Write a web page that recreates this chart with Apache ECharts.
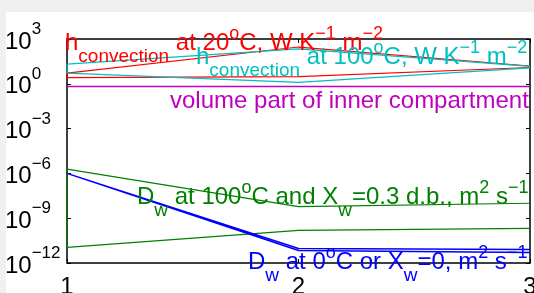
<!DOCTYPE html>
<html><head><meta charset="utf-8">
<script src="https://cdn.jsdelivr.net/npm/echarts@6/dist/echarts.min.js"></script>
<style>html,body{margin:0;padding:0;background:#f0f0f0}#c{width:534px;height:293px}</style>
</head><body><div id="c"></div>
<script>
// x positions (stage index)
const xValues = [1, 2, 3];
const xTickLabels = ['1', '2', '3'];
// y tick exponents (log10 scale)
const yTickExponents = [-12, -9, -6, -3, 0, 3];

// h_convection at 20 °C, W K^-1 m^-2 (band upper/lower)
const hConv20Upper = [5.2, 290, 15.5];
const hConv20Lower = [2.6, 3.0, 12.3];
// h_convection at 100 °C, W K^-1 m^-2 (band upper/lower)
const hConv100Upper = [21, 215, 14.5];
const hConv100Lower = [5.2, 1.23, 11.5];
// volume part of inner compartment
const volumePart = [0.65, 0.65, 0.65];
// D_w at 100 °C and X_w = 0.3 d.b., m^2 s^-1 (band)
const dw100Upper = [1.95e-6, 5.9e-9, 1.0e-8];
const dw100Lower = [1.1e-11, 1.55e-10, 2.1e-10];
// D_w at 0 °C or X_w = 0, m^2 s^-1 (band)
const dw0Upper = [1.0e-6, 9.3e-12, 8.1e-12];
const dw0Lower = [1.0e-6, 6.8e-12, 5.1e-12];

const FONT = "'Liberation Sans', Arial, Helvetica, sans-serif";
const lg = v => Math.log10(v);
function band(upper, lower) {
  const pts = [];
  for (let i = xValues.length - 1; i >= 0; i--) pts.push([xValues[i], lg(lower[i])]);
  for (let i = 0; i < xValues.length; i++) pts.push([xValues[i], lg(upper[i])]);
  return pts;
}
function line(vals) { return xValues.map((x, i) => [x, lg(vals[i])]); }

// convert "a_{sub} b^{sup}" into rich text
function rich(s) {
  let out = '', buf = '';
  let i = 0;
  const flush = () => { if (buf) { out += '{b|' + buf + '}'; buf = ''; } };
  while (i < s.length) {
    if ((s[i] === '_' || s[i] === '^') && s[i + 1] === '{') {
      flush();
      const end = s.indexOf('}', i);
      out += '{' + (s[i] === '_' ? 'd' : 'p') + '|' + s.slice(i + 2, end) + '}';
      i = end + 1;
    } else { buf += s[i]; i++; }
  }
  flush();
  return out;
}
const richStyles = {
  b: { fontSize: 24, lineHeight: 24, fontFamily: FONT, verticalAlign: 'middle' },
  p: { fontSize: 18, lineHeight: 18, fontFamily: FONT, padding: [0, 0, 18, 0], verticalAlign: 'middle' },
  d: { fontSize: 19, lineHeight: 19, fontFamily: FONT, padding: [28, 0, 0, 0], verticalAlign: 'middle' }
};
function label(text, x, y, color) {
  return { type: 'text', x: x, y: y, z: 5,
    style: { text: rich(text), rich: richStyles, fill: color, font: '24px ' + FONT, verticalAlign: 'middle', align: 'left' } };
}

const chart = echarts.init(document.getElementById('c'), null, { renderer: 'canvas' });
const mkSeries = (data, color, width) => ({ type: 'line', data: data, showSymbol: false, silent: true,
  lineStyle: { color: color, width: width }, itemStyle: { color: color }, animation: false });
const tick = { show: true, inside: true, length: 4, lineStyle: { color: '#000', width: 1 } };

chart.setOption({
  animation: false,
  backgroundColor: 'transparent',
  grid: { left: 67, right: 4, top: 39, bottom: 30, containLabel: false, outerBoundsMode: 'none', show: true,
    borderColor: '#000', borderWidth: 1.5, backgroundColor: 'transparent' },
  xAxis: [
    { type: 'value', min: 1, max: 3, interval: 1, position: 'bottom',
      axisLine: { show: false, onZero: false }, axisTick: tick, splitLine: { show: false },
      axisLabel: { margin: 12, color: '#000', fontSize: 24, fontFamily: FONT, showMinLabel: true, showMaxLabel: true,
        formatter: v => xTickLabels[xValues.indexOf(v)] || '' } },
    { type: 'value', min: 1, max: 3, interval: 1, position: 'top',
      axisLine: { show: false, onZero: false }, axisTick: tick, splitLine: { show: false }, axisLabel: { show: false } }
  ],
  yAxis: [
    { type: 'value', min: yTickExponents[0], max: yTickExponents[yTickExponents.length - 1], interval: 3, position: 'left',
      axisLine: { show: false, onZero: false }, axisTick: tick, splitLine: { show: false },
      axisLabel: { align: 'left', margin: 62, color: '#000', showMinLabel: true, showMaxLabel: true, hideOverlap: false,
        formatter: v => '{b|10}{p|' + (v < 0 ? '\u2212' + (-v) : v) + '}',
        rich: {
          b: { fontSize: 24, lineHeight: 33, height: 27, fontFamily: FONT, verticalAlign: 'bottom' },
          p: { fontSize: 17, lineHeight: 14, height: 14, fontFamily: FONT, verticalAlign: 'top' }
        } } },
    { type: 'value', min: yTickExponents[0], max: yTickExponents[yTickExponents.length - 1], interval: 3, position: 'right',
      axisLine: { show: false, onZero: false }, axisTick: tick, splitLine: { show: false }, axisLabel: { show: false } }
  ],
  series: [
    mkSeries(band(hConv20Upper, hConv20Lower), '#ff0000', 1.2),
    mkSeries(band(hConv100Upper, hConv100Lower), '#00bfbf', 1.2),
    mkSeries(line(volumePart), '#bf00bf', 1.5),
    mkSeries(band(dw100Upper, dw100Lower), '#008000', 1.2),
    mkSeries(band(dw0Upper, dw0Lower), '#0000ff', 1.5)
  ],
  graphic: [
    { type: 'rect', z: -10, silent: true, shape: { x: 6, y: 12, width: 528, height: 281 }, style: { fill: '#ffffff' } },
    label('h_{convection} at 20^{o}C, W K^{\u22121} m^{\u22122}', 65, 43, '#ff0000'),
    label('h_{convection} at 100^{o}C, W K^{\u22121} m^{\u22122}', 196, 57, '#00bfbf'),
    label('volume part of inner compartment', 170, 101, '#bf00bf'),
    label('D_{w} at 100^{o}C and X_{w}=0.3 d.b., m^{2} s^{\u22121}', 137, 197, '#008000'),
    label('D_{w} at 0^{o}C or X_{w}=0, m^{2} s^{\u22121}', 248, 262, '#0000ff')
  ]
});
</script></body></html>
